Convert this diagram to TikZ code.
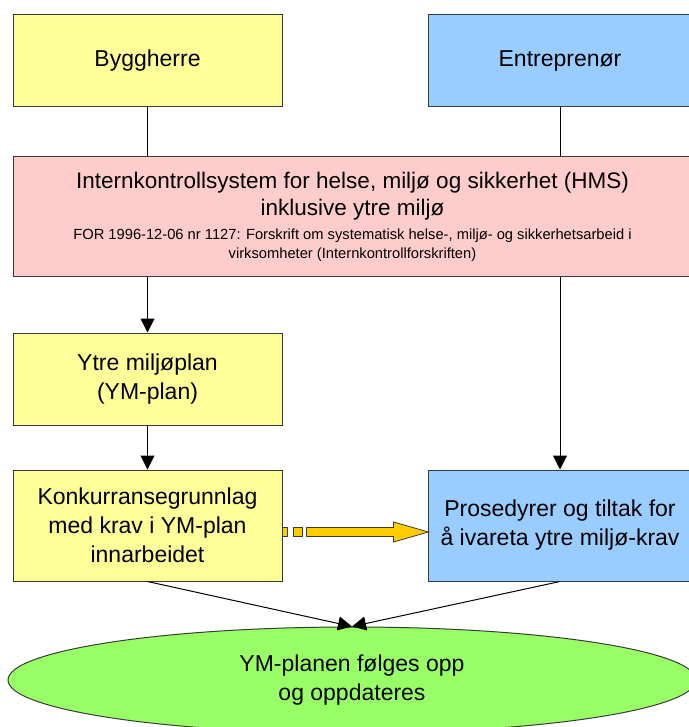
\documentclass[tikz,border=0pt]{standalone}
\usepackage{fontspec}
\setmainfont{Liberation Sans}
\usetikzlibrary{arrows.meta, shapes.geometric}

\definecolor{byggyellow}{HTML}{FFFF99}
\definecolor{entrblue}{HTML}{99CCFF}
\definecolor{hmspink}{HTML}{FFCCCC}
\definecolor{ymgreen}{HTML}{99FF66}
\definecolor{arrowgold}{HTML}{FFCC00}
\definecolor{edgegrey}{HTML}{3A3A3A}

\newcommand{\smalltxt}{\fontsize{14.7}{18}\selectfont}

\tikzset{
  box/.style={draw=edgegrey, line width=1pt, align=center, inner sep=0pt,
    font=\fontsize{23}{29}\selectfont},
  leftbox/.style={box, fill=byggyellow, minimum width=269pt},
  rightbox/.style={box, fill=entrblue, minimum width=264pt},
  flow/.style={line width=1pt, -{Triangle[length=14pt, width=14pt]}},
  link/.style={line width=1pt}
}

\begin{document}
\begin{tikzpicture}[x=1pt, y=1pt]
\useasboundingbox (0,0) rectangle (688,-727);

% parter
\node[leftbox, minimum height=92pt] (bygg) at (147.5,-61) {Byggherre};
\node[rightbox, minimum height=92pt] (entr) at (560,-61) {Entreprenør};

% internkontroll
\node[box, fill=hmspink, minimum width=679pt, minimum height=119pt,
  font=\fontsize{22.5}{27}\selectfont] (hms) at (352.5,-216.5)
  {Internkontrollsystem for helse, miljø og sikkerhet (HMS)\\
   inklusive ytre miljø\\[-3pt]
   {\smalltxt FOR 1996-12-06 nr 1127: Forskrift om systematisk helse-, miljø- og sikkerhetsarbeid i}\\[-8pt]
   {\smalltxt virksomheter (Internkontrollforskriften)}};

% planer
\node[leftbox, minimum height=92pt] (ymplan) at (147.5,-379) {Ytre miljøplan\\(YM-plan)};
\node[leftbox, minimum height=111pt] (konk) at (147.5,-525.5)
  {Konkurransegrunnlag\\med krav i YM-plan\\innarbeidet};
\node[rightbox, minimum height=111pt] (pros) at (560,-525.5)
  {Prosedyrer og tiltak for\\å ivareta ytre miljø-krav};

% oppfolging
\node[ellipse, draw=edgegrey, line width=1pt, fill=ymgreen, inner sep=0pt,
  minimum width=688pt, minimum height=106pt, align=center,
  font=\fontsize{23}{29}\selectfont] (oppf) at (352,-680)
  {YM-planen følges opp\\og oppdateres};

\draw[link] (bygg.south) -- (bygg.south |- hms.north);
\draw[link] (entr.south) -- (entr.south |- hms.north);
\draw[flow] (hms.south -| ymplan.north) -- (ymplan.north);
\draw[flow] (hms.south -| pros.north) -- (pros.north);
\draw[flow] (ymplan) -- (konk);
\draw[flow] (konk.south) -- (oppf.north);
\draw[flow] (pros.south) -- (oppf.north);

% gul pil
\begin{scope}[shift={(konk.east)}, draw=edgegrey, fill=arrowgold, line width=0.8pt]
  \filldraw (0,-2) rectangle (5,-11);
  \filldraw (11,-2) rectangle (20,-11);
  \filldraw (24,-2) -- (111,-2) -- (111,3.5) -- (146,-6.5) -- (111,-16.5)
    -- (111,-11) -- (24,-11) -- cycle;
\end{scope}
\end{tikzpicture}
\end{document}
